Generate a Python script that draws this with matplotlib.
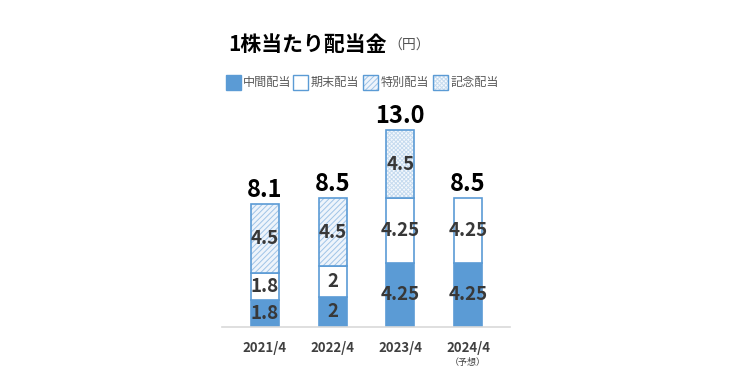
import numpy as np
import matplotlib
matplotlib.use('Agg')
import matplotlib.pyplot as plt
from matplotlib.patches import Rectangle

plt.rcParams['font.family'] = ['Noto Sans CJK JP', 'DejaVu Sans']
plt.rcParams['hatch.linewidth'] = 0.7

# data
years = ["2021/4", "2022/4", "2023/4", "2024/4"]
interim = [1.8, 2, 4.25, 4.25]
year_end = [1.8, 2, 4.25, 4.25]
special = [4.5, 4.5, 0, 0]
memorial = [0, 0, 4.5, 0]
totals = ["8.1", "8.5", "13.0", "8.5"]
interim_lbl = ["1.8", "2", "4.25", "4.25"]
year_end_lbl = ["1.8", "2", "4.25", "4.25"]
special_lbl = ["4.5", "4.5", "", ""]
memorial_lbl = ["", "", "4.5", ""]
legend_names = ["中間配当", "期末配当", "特別配当", "記念配当"]

blue = "#5b9bd5"
sp_face, sp_hatch = "#eef4fb", "#9fc4e7"
mm_face, mm_hatch = "#f5f9fd", "#c6dbef"
W, H = 750, 384

fig = plt.figure(figsize=(7.5, 3.84), dpi=100)
ax = fig.add_axes([222 / W, (H - 327) / H, (510 - 222) / W, 227 / H])

x = np.arange(len(years))
w = 0.41
interim = np.array(interim)
year_end = np.array(year_end)
special = np.array(special)
memorial = np.array(memorial)
b1 = interim + year_end
b2 = b1 + special

ax.bar(x, interim, w, color=blue, edgecolor=blue, linewidth=1.2)
ax.bar(x, year_end, w, bottom=interim, color="white", edgecolor=blue, linewidth=1.2)

# hatched segments: fill + hatch first, outline on top
has_sp = special > 0
has_mm = memorial > 0
ax.bar(x[has_sp], special[has_sp], w, bottom=b1[has_sp], color=sp_face, edgecolor=sp_hatch,
       linewidth=0, hatch="//////")
ax.bar(x[has_sp], special[has_sp], w, bottom=b1[has_sp], fill=False, edgecolor=blue, linewidth=1.2)
ax.bar(x[has_mm], memorial[has_mm], w, bottom=b2[has_mm], color=mm_face, edgecolor=mm_hatch,
       linewidth=0, hatch="xxxxxxxx")
ax.bar(x[has_mm], memorial[has_mm], w, bottom=b2[has_mm], fill=False, edgecolor=blue, linewidth=1.2)

lbl_kw = dict(ha="center", va="center", fontsize=13.5, color="#383838", fontweight="bold")
for i in range(len(years)):
    ax.text(x[i], interim[i] / 2, interim_lbl[i], **lbl_kw)
    ax.text(x[i], interim[i] + year_end[i] / 2, year_end_lbl[i], **lbl_kw)
    if special_lbl[i]:
        ax.text(x[i], b1[i] + special[i] / 2, special_lbl[i], **lbl_kw)
    if memorial_lbl[i]:
        ax.text(x[i], b2[i] + memorial[i] / 2, memorial_lbl[i], **lbl_kw)
    top = b2[i] + memorial[i]
    ax.text(x[i], top + 0.15, totals[i], ha="center", va="bottom", fontsize=17,
            fontweight="bold", color="black")

ax.set_xlim(-0.635, 3.62)
ax.set_ylim(0, 15)
ax.set_xticks(x)
ax.set_xticklabels(years, fontsize=9.5, color="#404040", fontweight="bold")
ax.tick_params(axis="x", length=0, pad=10)
ax.set_yticks([])
for s in ["top", "right", "left"]:
    ax.spines[s].set_visible(False)
ax.spines["bottom"].set_color("#d9d9d9")
ax.spines["bottom"].set_linewidth(1.2)

ax.text(x[3], -0.135, "（予想）", transform=ax.get_xaxis_transform(), ha="center", va="top",
        fontsize=6.5, color="#404040")

# title
fig.text(228 / W, 1 - 44 / H, "1株当たり配当金", fontsize=15, fontweight="bold", va="center", color="black")
fig.text(388 / W, 1 - 46 / H, "（円）", fontsize=10, va="center", color="#555555")

# legend
sq_x = [226, 293, 363, 433]
txt_x = [243, 311, 381, 451]
faces = [blue, "white", sp_face, mm_face]
hatch_cols = [blue, blue, sp_hatch, mm_hatch]
hatches = [None, None, "//////", "xxxxxxxx"]
for sx, tx, name, fc, hc, hh in zip(sq_x, txt_x, legend_names, faces, hatch_cols, hatches):
    fig.patches.append(Rectangle((sx / W, 1 - 90 / H), 15 / W, 15 / H, transform=fig.transFigure,
                                 facecolor=fc, edgecolor=hc, hatch=hh, linewidth=0))
    fig.patches.append(Rectangle((sx / W, 1 - 90 / H), 15 / W, 15 / H, transform=fig.transFigure,
                                 fill=False, edgecolor=blue, linewidth=1.0))
    fig.text(tx / W, 1 - 82.5 / H, name, fontsize=8.7, va="center", color="#595959")

fig.savefig("out.png", dpi=100)
